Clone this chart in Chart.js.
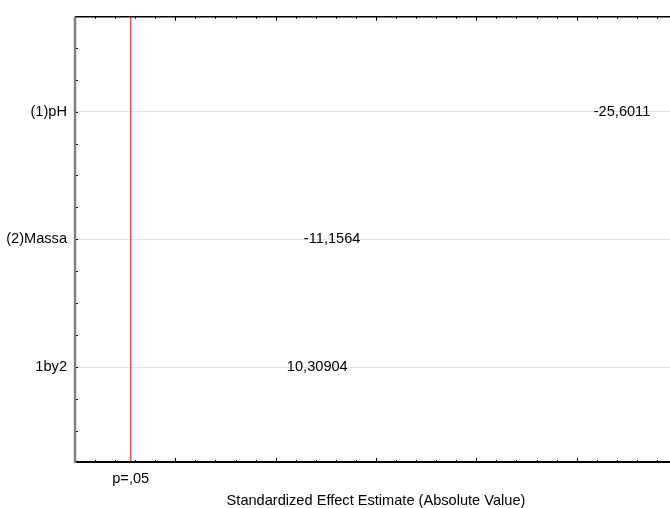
<!DOCTYPE html>
<html>
<head>
<meta charset="utf-8">
<script src="https://cdn.jsdelivr.net/npm/chart.js@4/dist/chart.umd.min.js"></script>
<style>
  html, body { margin: 0; padding: 0; background: #fff; overflow: hidden; }
  #wrap { width: 690px; height: 508px; position: relative; }
</style>
</head>
<body>
<div id="wrap"><canvas id="pareto"></canvas></div>
<script>
// Effects in the Pareto chart
const effectNames = ['(1)pH', '(2)Massa', '1by2'];
const effectEstimates = [-25.6011, -11.1564, 10.30904];
// Significance threshold (t critical value) and its label
const criticalT = 2.776;
const criticalLabel = 'p=,05';
const xMin = 0;
const xMax = 30;
const axisTitle = 'Standardized Effect Estimate (Absolute Value)';

const FONT = '"Liberation Sans", Arial, Helvetica, sans-serif';
const FONT_SIZE = 14.6;
const fmt = v => String(v).replace('.', ',');

const barData = effectEstimates.map((v, i) => ({ x: Math.abs(v), y: i + 1 }));

const framePlugin = {
  id: 'frame',
  afterDatasetsDraw(chart) {
    const { ctx, chartArea: a, scales: { x, y } } = chart;
    ctx.save();

    // significance line
    const cx = x.getPixelForValue(criticalT);
    ctx.strokeStyle = '#ff4545';
    ctx.lineWidth = 1.5;
    ctx.beginPath(); ctx.moveTo(cx, a.top); ctx.lineTo(cx, a.bottom); ctx.stroke();

    // minor / major tick marks on top and bottom axes
    ctx.strokeStyle = '#000';
    ctx.lineWidth = 1;
    for (let v = xMin; v <= xMax; v += 1) {
      const px = Math.round(x.getPixelForValue(v)) + 0.5;
      const len = v % 5 === 0 ? 4 : 2;
      ctx.beginPath();
      ctx.moveTo(px, a.bottom); ctx.lineTo(px, a.bottom - len);
      ctx.moveTo(px, a.top); ctx.lineTo(px, a.top + len);
      ctx.stroke();
    }
    // tick marks on left axis
    for (let v = 0.5; v <= 3.5; v += 0.25) {
      const py = Math.round(y.getPixelForValue(v)) + 0.5;
      ctx.beginPath(); ctx.moveTo(a.left, py); ctx.lineTo(a.left + 3, py); ctx.stroke();
    }

    // axis lines
    ctx.strokeStyle = '#000';
    ctx.lineWidth = 1.5;
    ctx.beginPath(); ctx.moveTo(a.left, a.top); ctx.lineTo(a.right, a.top); ctx.stroke();
    ctx.lineWidth = 2;
    ctx.beginPath(); ctx.moveTo(a.left, a.bottom); ctx.lineTo(a.right, a.bottom); ctx.stroke();
    ctx.strokeStyle = '#7f7f7f';
    ctx.lineWidth = 2.5;
    ctx.beginPath(); ctx.moveTo(a.left, a.top); ctx.lineTo(a.left, a.bottom + 1); ctx.stroke();

    // effect value labels at the bar ends
    ctx.fillStyle = '#000';
    ctx.font = FONT_SIZE + 'px ' + FONT;
    ctx.textAlign = 'left';
    ctx.textBaseline = 'middle';
    chart.getDatasetMeta(0).data.forEach((bar, i) => {
      ctx.fillText(fmt(effectEstimates[i]), bar.x + 5, bar.y);
    });
    ctx.restore();
  }
};

new Chart(document.getElementById('pareto'), {
  type: 'bar',
  data: {
    datasets: [{
      data: barData,
      backgroundColor: 'rgba(0,0,0,0)',
      borderWidth: 0
    }]
  },
  options: {
    indexAxis: 'y',
    responsive: true,
    maintainAspectRatio: false,
    animation: false,
    devicePixelRatio: 1,
    layout: { padding: { top: 14, right: 13, left: 0, bottom: 0 } },
    plugins: { legend: { display: false }, tooltip: { enabled: false } },
    scales: {
      x: {
        type: 'linear',
        min: xMin,
        max: xMax,
        grid: { display: false, drawTicks: false },
        border: { display: false },
        afterBuildTicks: s => { s.ticks = [{ value: criticalT }]; },
        afterFit: s => { s.height = 46; },
        ticks: {
          padding: 8,
          color: '#000',
          font: { family: FONT, size: FONT_SIZE },
          callback: () => criticalLabel
        },
        title: {
          display: true,
          text: axisTitle,
          color: '#000',
          padding: { top: 0, bottom: -0.5 },
          font: { family: FONT, size: FONT_SIZE, lineHeight: 1 }
        }
      },
      y: {
        type: 'linear',
        reverse: true,
        offset: false,
        min: 0.258,
        max: 3.742,
        grid: { color: '#e2e2e2', drawTicks: false, lineWidth: 1, offset: false },
        border: { display: false },
        afterBuildTicks: s => { s.ticks = effectNames.map((_, i) => ({ value: i + 1 })); },
        afterFit: s => { s.width = 75; },
        ticks: {
          padding: 8,
          color: '#000',
          font: { family: FONT, size: FONT_SIZE },
          callback: v => effectNames[v - 1]
        }
      }
    }
  },
  plugins: [framePlugin]
});
</script>
</body>
</html>
